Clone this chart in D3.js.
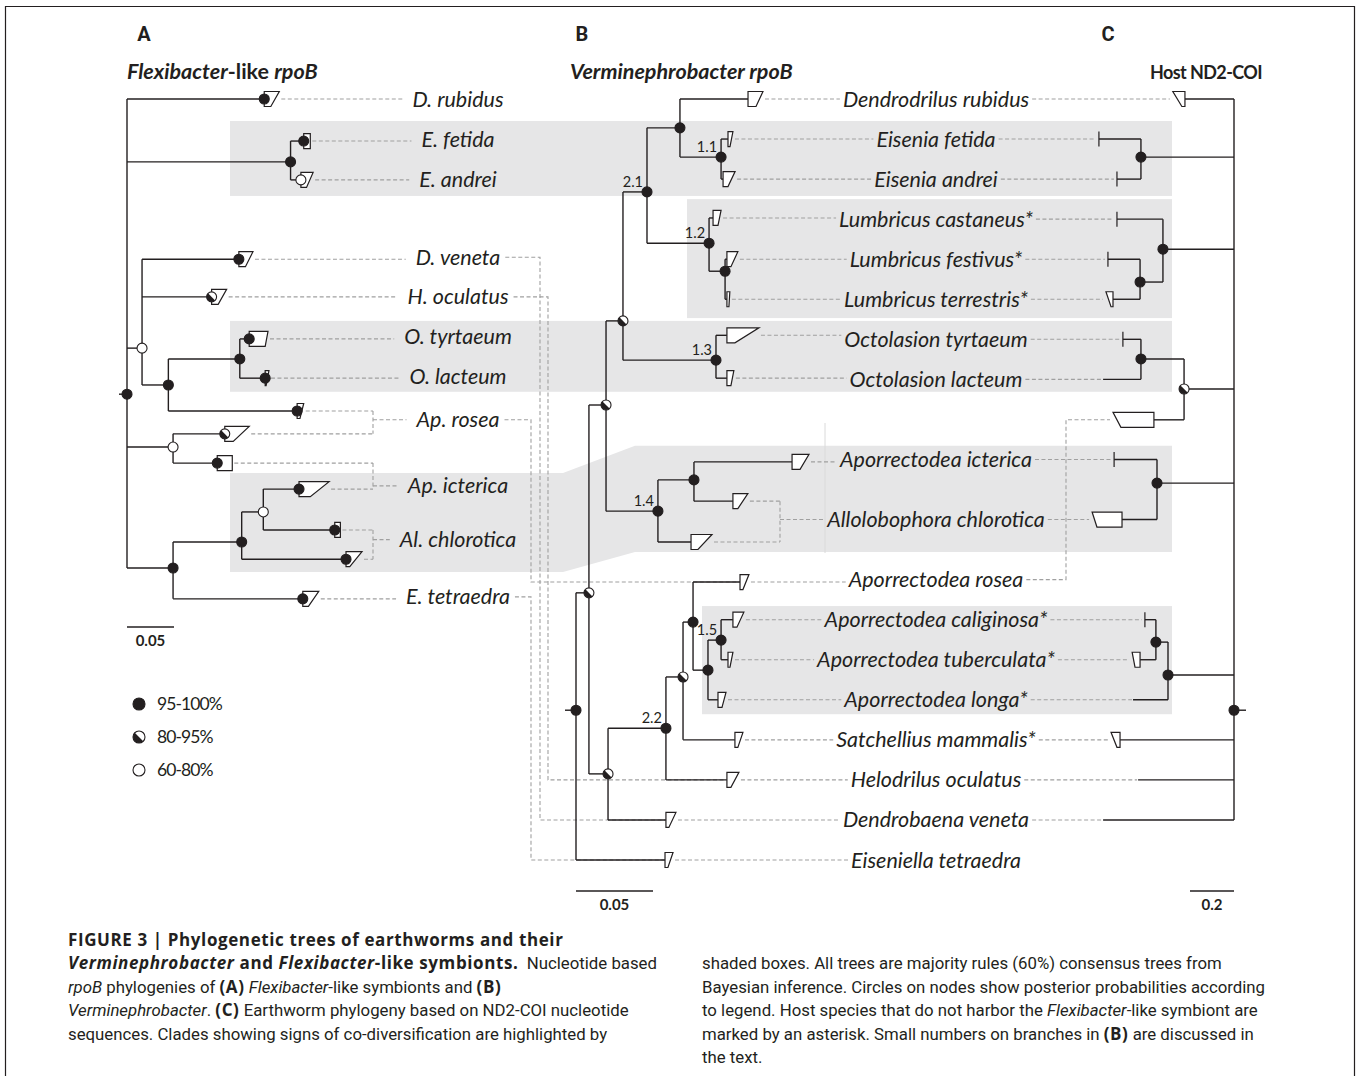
<!DOCTYPE html>
<html>
<head>
<meta charset="utf-8">
<script src="https://cdn.jsdelivr.net/npm/d3@7"></script>
<style>
  body { margin: 0; background: #fff; }
  text { fill: #231f20; }
  .sp { font-family: Lato, "Open Sans", sans-serif; font-style: italic; font-size: 21.5px; }
  .tree line { stroke: #231f20; stroke-width: 1.4; }
  .tree polygon { fill: #fff; stroke: #231f20; stroke-width: 1.2; stroke-linejoin: miter; }
  .dash { stroke: #a0a0a0; stroke-width: 1.1; stroke-dasharray: 4 2.5; fill: none; }
  .cap { font-family: Roboto, sans-serif; font-size: 16.8px; white-space: pre; }
  .cap .bold { font-family: "Open Sans", sans-serif; font-size: 17px; font-weight: 700; letter-spacing: 0.6px; }
</style>
</head>
<body>
<svg id="fig" width="1360" height="1076"></svg>
<script>
// ---- data ----
// trees: [id, parent, depth (subst./site from root), row, posterior class]
// posterior: h = 95-100%, m = 80-95%, l = 60-80%
const treeA = [
  ["rA", null, 0, 7.37, "h"],
  ["drub", "rA", 0.146, 0, "h"],
  ["EE", "rA", 0.174, 1.57, "h"],
  ["efet", "EE", 0.188, 1.05, "h"],
  ["eand", "EE", 0.185, 2.02, "l"],
  ["W1", "rA", 0.016, 6.22, "l"],
  ["dven", "W1", 0.119, 4.0, "h"],
  ["hocu", "W1", 0.090, 4.94, "m"],
  ["nO", "W1", 0.044, 7.14, "h"],
  ["nOc", "nO", 0.120, 6.49, "h"],
  ["otyr", "nOc", 0.130, 5.99, "h"],
  ["olac", "nOc", 0.147, 6.97, "h"],
  ["aros1", "nO", 0.181, 7.79, "h"],
  ["W2", "rA", 0.049, 8.69, "l"],
  ["aros2", "W2", 0.104, 8.36, "m"],
  ["aict1", "W2", 0.096, 9.09, "h"],
  ["nB", "rA", 0.049, 11.71, "h"],
  ["nC", "nB", 0.122, 11.06, "h"],
  ["nD", "nC", 0.145, 10.31, "l"],
  ["aict2", "nD", 0.183, 9.74, "h"],
  ["achl1", "nD", 0.221, 10.76, "h"],
  ["achl2", "nC", 0.233, 11.49, "h"],
  ["etet", "nB", 0.187, 12.48, "h"]
];
const treeB = [
  ["rB", null, 0, 15.26, "h"],
  ["R", "rB", 0.0084, 12.33, "m"],
  ["P", "R", 0.0195, 7.64, "m"],
  ["O", "P", 0.0305, 5.54, "m"],
  ["n21", "O", 0.0461, 2.32, "h"],
  ["N1", "n21", 0.0675, 0.72, "h"],
  ["drub", "N1", 0.1117, 0, null],
  ["n11", "N1", 0.0942, 1.45, "h"],
  ["efet", "n11", 0.0987, 1, null],
  ["eand", "n11", 0.0955, 2, null],
  ["n12", "n21", 0.0864, 3.6, "h"],
  ["lcas", "n12", 0.089, 2.97, null],
  ["n12b", "n12", 0.0968, 4.3, "h"],
  ["lfes", "n12b", 0.098, 4, null],
  ["lter", "n12b", 0.098, 5, null],
  ["n13", "O", 0.0909, 6.52, "h"],
  ["otyr", "n13", 0.098, 5.9, null],
  ["olac", "n13", 0.098, 6.97, null],
  ["n14", "P", 0.0532, 10.29, "h"],
  ["nQ", "n14", 0.0766, 9.51, "h"],
  ["aict", "nQ", 0.1403, 9.06, null],
  ["achl1", "nQ", 0.1019, 10.04, null],
  ["achl2", "n14", 0.0747, 11.06, null],
  ["nS", "R", 0.0208, 16.85, "m"],
  ["n22", "nS", 0.0584, 15.71, "h"],
  ["nT", "n22", 0.0695, 14.43, "m"],
  ["nU", "nT", 0.076, 13.06, "h"],
  ["aros", "nU", 0.1065, 12.06, null],
  ["nV", "nU", 0.0857, 14.26, "h"],
  ["n15", "nV", 0.0942, 13.51, "h"],
  ["acal", "n15", 0.1019, 13, null],
  ["atub", "n15", 0.0987, 14, null],
  ["alon", "nV", 0.0922, 15, null],
  ["satc", "nT", 0.1032, 16, null],
  ["helo", "n22", 0.098, 17, null],
  ["dven", "nS", 0.0584, 18, null],
  ["etet", "rB", 0.0578, 19, null]
];
const treeC = [
  ["rC", null, 0, 15.26, "h"],
  ["drub", "rC", 0.223, 0, null],
  ["cE", "rC", 0.423, 1.45, "h"],
  ["efet", "cE", 0.614, 1, null],
  ["eand", "cE", 0.532, 2, null],
  ["cL", "rC", 0.323, 3.75, "h"],
  ["lcas", "cL", 0.532, 3, null],
  ["cL2", "cL", 0.427, 4.57, "h"],
  ["lfes", "cL2", 0.573, 4, null],
  ["lter", "cL2", 0.55, 5, null],
  ["cW", "rC", 0.227, 7.24, "m"],
  ["cO", "cW", 0.423, 6.49, "h"],
  ["otyr", "cO", 0.505, 6, null],
  ["olac", "cO", 0.595, 7, null],
  ["aros", "cW", 0.364, 8.01, null],
  ["cA", "rC", 0.35, 9.59, "h"],
  ["aict", "cA", 0.545, 9, null],
  ["achl", "cA", 0.509, 10.5, null],
  ["cX", "rC", 0.3, 14.38, "h"],
  ["cY", "cX", 0.355, 13.56, "h"],
  ["acal", "cY", 0.405, 13, null],
  ["atub", "cY", 0.427, 14, null],
  ["alon", "cX", 0.459, 15, null],
  ["satc", "rC", 0.518, 16, null],
  ["helo", "rC", 0.436, 17, null],
  ["dven", "rC", 0.595, 18, null]
];

// collapsed clades: [tip, depth spread of longest, depth spread of shortest]
const cladeA = [
  ["drub", 0.016, 0.007], ["efet", 0.007, 0.007], ["eand", 0.013, 0.006],
  ["dven", 0.015, 0.007], ["hocu", 0.016, 0.007], ["otyr", 0.020, 0.017],
  ["olac", 0.004, 0.001], ["aros1", 0.007, 0.003], ["aros2", 0.026, 0.009],
  ["aict1", 0.016, 0.016], ["aict2", 0.032, 0.012], ["achl1", 0.006, 0.006],
  ["achl2", 0.017, 0.004], ["etet", 0.017, 0.006]
];
const cladeB = [
  ["drub", 0.0097, 0.0052], ["efet", 0.0032, 0.0013], ["eand", 0.0078, 0.0032],
  ["lcas", 0.0052, 0.0032], ["lfes", 0.0071, 0.0026], ["lter", 0.0019, 0.0013],
  ["otyr", 0.0208, 0.0052], ["olac", 0.0045, 0.0026], ["aict", 0.011, 0.0052],
  ["achl1", 0.0097, 0.0032], ["achl2", 0.0136, 0.0045], ["aros", 0.0058, 0.0019],
  ["acal", 0.0071, 0.0026], ["atub", 0.0032, 0.0013], ["alon", 0.0052, 0.0026],
  ["satc", 0.0052, 0.0019], ["helo", 0.0078, 0.0026], ["dven", 0.0065, 0.0019],
  ["etet", 0.0052, 0.0019]
];
const cladeC = [
  ["drub", 0.055, 0.014], ["efet", 0, 0], ["eand", 0, 0], ["lcas", 0, 0],
  ["lfes", 0, 0], ["lter", 0.032, 0.009], ["otyr", 0, 0], ["aros", 0.186, 0.15],
  ["aict", 0, 0], ["achl", 0.136, 0.114], ["acal", 0, 0], ["atub", 0.036, 0.023],
  ["satc", 0.041, 0.014]
];

// symbiont names of tree A: [label, row, tips]
const labelsA = [
  ["D. rubidus", 0, ["drub"]],
  ["E. fetida", 1, ["efet"]],
  ["E. andrei", 2, ["eand"]],
  ["D. veneta", 3.95, ["dven"]],
  ["H. oculatus", 4.94, ["hocu"]],
  ["O. tyrtaeum", 5.94, ["otyr"]],
  ["O. lacteum", 6.92, ["olac"]],
  ["Ap. rosea", 8.01, ["aros1", "aros2"]],
  ["Ap. icterica", 9.66, ["aict1", "aict2"]],
  ["Al. chlorotica", 11.0, ["achl1", "achl2"]],
  ["E. tetraedra", 12.43, ["etet"]]
];
// host names between B and C: [label, row, tips in B, tip in C]
const labelsB = [
  ["Dendrodrilus rubidus", 0, ["drub"], "drub"],
  ["Eisenia fetida", 1, ["efet"], "efet"],
  ["Eisenia andrei", 2, ["eand"], "eand"],
  ["Lumbricus castaneus*", 3, ["lcas"], "lcas"],
  ["Lumbricus festivus*", 4, ["lfes"], "lfes"],
  ["Lumbricus terrestris*", 5, ["lter"], "lter"],
  ["Octolasion tyrtaeum", 6, ["otyr"], "otyr"],
  ["Octolasion lacteum", 7, ["olac"], "olac"],
  ["Aporrectodea icterica", 9, ["aict"], "aict"],
  ["Allolobophora chlorotica", 10.5, ["achl1", "achl2"], "achl"],
  ["Aporrectodea rosea", 12, ["aros"], "aros"],
  ["Aporrectodea caliginosa*", 13, ["acal"], "acal"],
  ["Aporrectodea tuberculata*", 14, ["atub"], "atub"],
  ["Aporrectodea longa*", 15, ["alon"], "alon"],
  ["Satchellius mammalis*", 16, ["satc"], "satc"],
  ["Helodrilus oculatus", 17, ["helo"], "helo"],
  ["Dendrobaena veneta", 18, ["dven"], "dven"],
  ["Eiseniella tetraedra", 19, ["etet"], null]
];
// symbionts of A linked to a different row in B
const crossAB = [["Ap. rosea", "aros"], ["E. tetraedra", "etet"], ["D. veneta", "dven"], ["H. oculatus", "helo"]];
const branchNumsB = [["n11", "1.1"], ["n12", "1.2"], ["n13", "1.3"], ["n14", "1.4"], ["n15", "1.5"], ["n21", "2.1"], ["n22", "2.2"]];
const legendItems = [["h", "95-100%"], ["m", "80-95%"], ["l", "60-80%"]];

// ---- drawing ----
const ink = "#231f20";
const svg = d3.select("#fig");

const y = d3.scaleLinear().domain([0, 19]).range([99, 860]);
const xA = d3.scaleLinear().domain([0, 0.05]).range([127, 174]);
const xB = d3.scaleLinear().domain([0, 0.05]).range([576, 653]);
const xC = d3.scaleLinear().domain([0, 0.2]).range([1234, 1190]);

function build(rows) {
  const m = new Map();
  rows.forEach(([id, parent, d, r, s]) => m.set(id, {id, parent, d, r, s, kids: []}));
  m.forEach(n => { if (n.parent) m.get(n.parent).kids.push(n); });
  return m;
}
const tA = build(treeA), tB = build(treeB), tC = build(treeC);
const shA = new Map(cladeA.map(([id, t, b]) => [id, [t, b]]));
const shB = new Map(cladeB.map(([id, t, b]) => [id, [t, b]]));
const shC = new Map(cladeC.map(([id, t, b]) => [id, [t, b]]));

const layer = {
  boxes: svg.append("g"),
  dash: svg.append("g"),
  tree: svg.append("g").attr("class", "tree"),
  dots: svg.append("g"),
  text: svg.append("g")
};

const line = d3.line();
function dpath(pts) {
  layer.dash.append("path").attr("class", "dash").attr("d", line(pts));
}

function dot(g, cx, cy, s, r) {
  const d = g.append("g").attr("transform", `translate(${cx},${cy})`);
  d.append("circle").attr("r", r).attr("fill", s === "h" ? ink : "#fff")
    .attr("stroke", ink).attr("stroke-width", 1.1);
  if (s === "m") {
    const k = r * 0.7071;
    d.append("path").attr("d", `M${-k},${-k}A${r},${r} 0 0 0 ${k},${k}Z`).attr("fill", ink);
  }
}

// far end of a tip's clade shape
function tipEnd(tree, shapes, x, id) {
  const n = tree.get(id), s = shapes.get(id);
  return s ? x(n.d + Math.max(s[0], s[1])) : x(n.d);
}

function drawTree(tree, shapes, x, stub) {
  const nodes = [...tree.values()];
  const g = layer.tree.append("g");
  g.selectAll("line.h").data(nodes.filter(n => n.parent)).join("line").attr("class", "h")
    .attr("x1", n => x(tree.get(n.parent).d)).attr("x2", n => x(n.d))
    .attr("y1", n => y(n.r)).attr("y2", n => y(n.r));
  g.selectAll("line.v").data(nodes.filter(n => n.kids.length)).join("line").attr("class", "v")
    .attr("x1", n => x(n.d)).attr("x2", n => x(n.d))
    .attr("y1", n => y(d3.min(n.kids, k => k.r))).attr("y2", n => y(d3.max(n.kids, k => k.r)));
  const root = nodes.find(n => !n.parent);
  g.append("line").attr("x1", x(root.d)).attr("x2", x(root.d) + stub)
    .attr("y1", y(root.r)).attr("y2", y(root.r));
  const hh = 7.5;
  g.selectAll("polygon").data([...shapes]).join("polygon")
    .attr("points", ([id, [t, b]]) => {
      const n = tree.get(id), x0 = x(n.d), yc = y(n.r);
      return [[x0, yc - hh], [x(n.d + t), yc - hh], [x(n.d + b), yc + hh], [x0, yc + hh]].join(" ");
    });
  nodes.filter(n => n.s).forEach(n => dot(layer.dots, x(n.d), y(n.r), n.s, 5));
}

// shaded co-diversification clades (rows)
const boxFill = "#e6e6e7", boxRight = 1172;
[[230, 0.55, 2.42], [687, 2.5, 5.47], [230, 5.54, 7.31], [702, 12.66, 15.36]].forEach(([x0, r0, r1]) => {
  layer.boxes.append("rect").attr("x", x0).attr("y", y(r0)).attr("width", boxRight - x0)
    .attr("height", y(r1) - y(r0)).attr("fill", boxFill);
});
layer.boxes.append("polygon").attr("fill", boxFill).attr("points", [
  [230, y(9.34)], [563, y(9.34)], [635, y(8.66)], [boxRight, y(8.66)],
  [boxRight, y(11.31)], [635, y(11.31)], [563, y(11.81)], [230, y(11.81)]
].join(" "));
layer.boxes.append("line").attr("x1", 825).attr("x2", 825).attr("y1", 423).attr("y2", 553)
  .attr("stroke", "#dadada").attr("stroke-width", 1);

drawTree(tA, shA, xA, -8);
drawTree(tB, shB, xB, -11);
drawTree(tC, shC, xC, 12);

// tree A names and leaders
const cxA = 458, brA = 373;
const posA = new Map();
labelsA.forEach(([name, row, tips]) => {
  const t = layer.text.append("text").attr("class", "sp").attr("x", cxA).attr("y", y(row))
    .attr("dy", "0.35em").attr("text-anchor", "middle").text(name);
  const w = t.node().getComputedTextLength();
  const x0 = cxA - w / 2, x1 = cxA + w / 2;
  posA.set(name, [x0, x1, row]);
  if (tips.length === 1) {
    const n = tA.get(tips[0]);
    dpath([[tipEnd(tA, shA, xA, tips[0]) + 2, y(n.r)], [x0 - 10, y(n.r)]]);
  } else {
    tips.forEach(id => {
      const n = tA.get(id);
      dpath([[tipEnd(tA, shA, xA, id) + 2, y(n.r)], [brA, y(n.r)]]);
    });
    const rs = tips.map(id => tA.get(id).r);
    dpath([[brA, y(d3.min(rs))], [brA, y(d3.max(rs))]]);
    dpath([[brA, y(row)], [x0 - 10, y(row)]]);
  }
});

// A -> B crossing links
const laneAB = {"Ap. rosea": 531, "E. tetraedra": 531, "D. veneta": 540, "H. oculatus": 548};
crossAB.forEach(([a, b]) => {
  const [, x1, row] = posA.get(a), n = tB.get(b), lx = laneAB[a];
  dpath([[x1 + 5, y(row)], [lx, y(row)], [lx, y(n.r)], [xB(n.d) - 1, y(n.r)]]);
});

// host names, B leaders, C leaders
const cxB = 936, brB = 780, laneBC = 1066;
labelsB.forEach(([name, row, tips, cTip]) => {
  const t = layer.text.append("text").attr("class", "sp").attr("x", cxB).attr("y", y(row))
    .attr("dy", "0.35em").attr("text-anchor", "middle").text(name);
  const w = t.node().getComputedTextLength();
  const x0 = cxB - w / 2, x1 = cxB + w / 2;
  if (tips.length === 1) {
    const n = tB.get(tips[0]);
    dpath([[tipEnd(tB, shB, xB, tips[0]) + 2, y(n.r)], [x0 - 3, y(n.r)]]);
  } else {
    tips.forEach(id => {
      const n = tB.get(id);
      dpath([[tipEnd(tB, shB, xB, id) + 2, y(n.r)], [brB, y(n.r)]]);
    });
    const rs = tips.map(id => tB.get(id).r);
    dpath([[brB, y(d3.min(rs))], [brB, y(d3.max(rs))]]);
    dpath([[brB, y(row)], [x0 - 3, y(row)]]);
  }
  if (cTip) {
    const c = tC.get(cTip);
    const cx = tipEnd(tC, shC, xC, cTip) - (shC.has(cTip) ? 3 : 1);
    if (Math.abs(c.r - row) > 1) {
      dpath([[x1 + 3, y(row)], [laneBC, y(row)], [laneBC, y(c.r)], [cx, y(c.r)]]);
    } else {
      dpath([[x1 + 3, y(c.r)], [cx, y(c.r)]]);
    }
  }
});

// branch numbers in B
branchNumsB.forEach(([id, txt]) => {
  const n = tB.get(id);
  layer.text.append("text").attr("x", xB(n.d) - 4).attr("y", y(n.r) - 5)
    .attr("text-anchor", "end").style("font-family", "Lato, sans-serif").style("font-size", "14.5px").text(txt);
});

// legend
legendItems.forEach(([s, txt], i) => {
  dot(layer.dots, 139, 704 + i * 33, s, 6);
  layer.text.append("text").attr("x", 157).attr("y", 704 + i * 33).attr("dy", "0.36em")
    .style("font-family", "Lato, sans-serif").style("font-size", "17.5px").style("letter-spacing", "-0.9px").text(txt);
});

// scale bars
function scaleBar(x, len, yy, txt) {
  const a = Math.min(x(0), x(len)), b = Math.max(x(0), x(len));
  layer.tree.append("line").attr("x1", a).attr("x2", b).attr("y1", yy).attr("y2", yy);
  layer.text.append("text").attr("x", (a + b) / 2).attr("y", yy + 19).attr("text-anchor", "middle")
    .style("font-family", "Lato, sans-serif").style("font-weight", 700).style("font-size", "15px").text(txt);
}
scaleBar(xA, 0.05, 627, "0.05");
scaleBar(xB, 0.05, 891, "0.05");
scaleBar(xC, 0.2, 891, "0.2");

// panel letters and titles
[["A", 144], ["B", 582], ["C", 1108]].forEach(([l, x]) => {
  layer.text.append("text").attr("x", x).attr("y", 41).attr("text-anchor", "middle")
    .style("font-family", "Roboto, sans-serif").style("font-weight", 700).style("font-size", "20px").text(l);
});
function title(x, anchor, size, spacing, segs) {
  const t = layer.text.append("text").attr("x", x).attr("y", 79).attr("text-anchor", anchor)
    .style("font-family", "Lato, sans-serif").style("font-weight", 700).style("font-size", size)
    .style("letter-spacing", spacing).style("white-space", "pre");
  segs.forEach(([it, s]) => t.append("tspan").style("font-style", it ? "italic" : "normal").text(s));
}
title(127, "start", "21.5px", "0px", [[1, "Flexibacter"], [0, "-like "], [1, "rpoB"]]);
title(570, "start", "21.5px", "0px", [[1, "Verminephrobacter rpoB"]]);
title(1262, "end", "18px", "-0.6px", [[0, "Host ND2-COI"]]);

// caption
const capLeft = [
  [["b", "FIGURE 3 | Phylogenetic trees of earthworms and their"]],
  [["bi", "Verminephrobacter"], ["b", " and "], ["bi", "Flexibacter"], ["b", "-like symbionts."], ["r", "  Nucleotide based"]],
  [["i", "rpoB"], ["r", " phylogenies of "], ["b", "(A)"], ["r", " "], ["i", "Flexibacter"], ["r", "-like symbionts and "], ["b", "(B)"]],
  [["i", "Verminephrobacter"], ["r", ". "], ["b", "(C)"], ["r", " Earthworm phylogeny based on ND2-COI nucleotide"]],
  [["r", "sequences. Clades showing signs of co-diversification are highlighted by"]]
];
const capRight = [
  [["r", "shaded boxes. All trees are majority rules (60%) consensus trees from"]],
  [["r", "Bayesian inference. Circles on nodes show posterior probabilities according"]],
  [["r", "to legend. Host species that do not harbor the "], ["i", "Flexibacter"], ["r", "-like symbiont are"]],
  [["r", "marked by an asterisk. Small numbers on branches in "], ["b", "(B)"], ["r", " are discussed in"]],
  [["r", "the text."]]
];
function caption(lines, x, y0) {
  lines.forEach((segs, i) => {
    const t = layer.text.append("text").attr("class", "cap").attr("x", x).attr("y", y0 + i * 23.4);
    segs.forEach(([st, s]) => t.append("tspan")
      .attr("class", st.includes("b") ? "bold" : null)
      .style("font-style", st.includes("i") ? "italic" : "normal").text(s));
  });
}
caption(capLeft, 68, 946);
caption(capRight, 702, 969.4);

// frame
svg.append("path").attr("d", "M5.5,1076V6.5H1354.5V1076").attr("fill", "none")
  .attr("stroke", ink).attr("stroke-width", 1.2);
</script>
</body>
</html>
